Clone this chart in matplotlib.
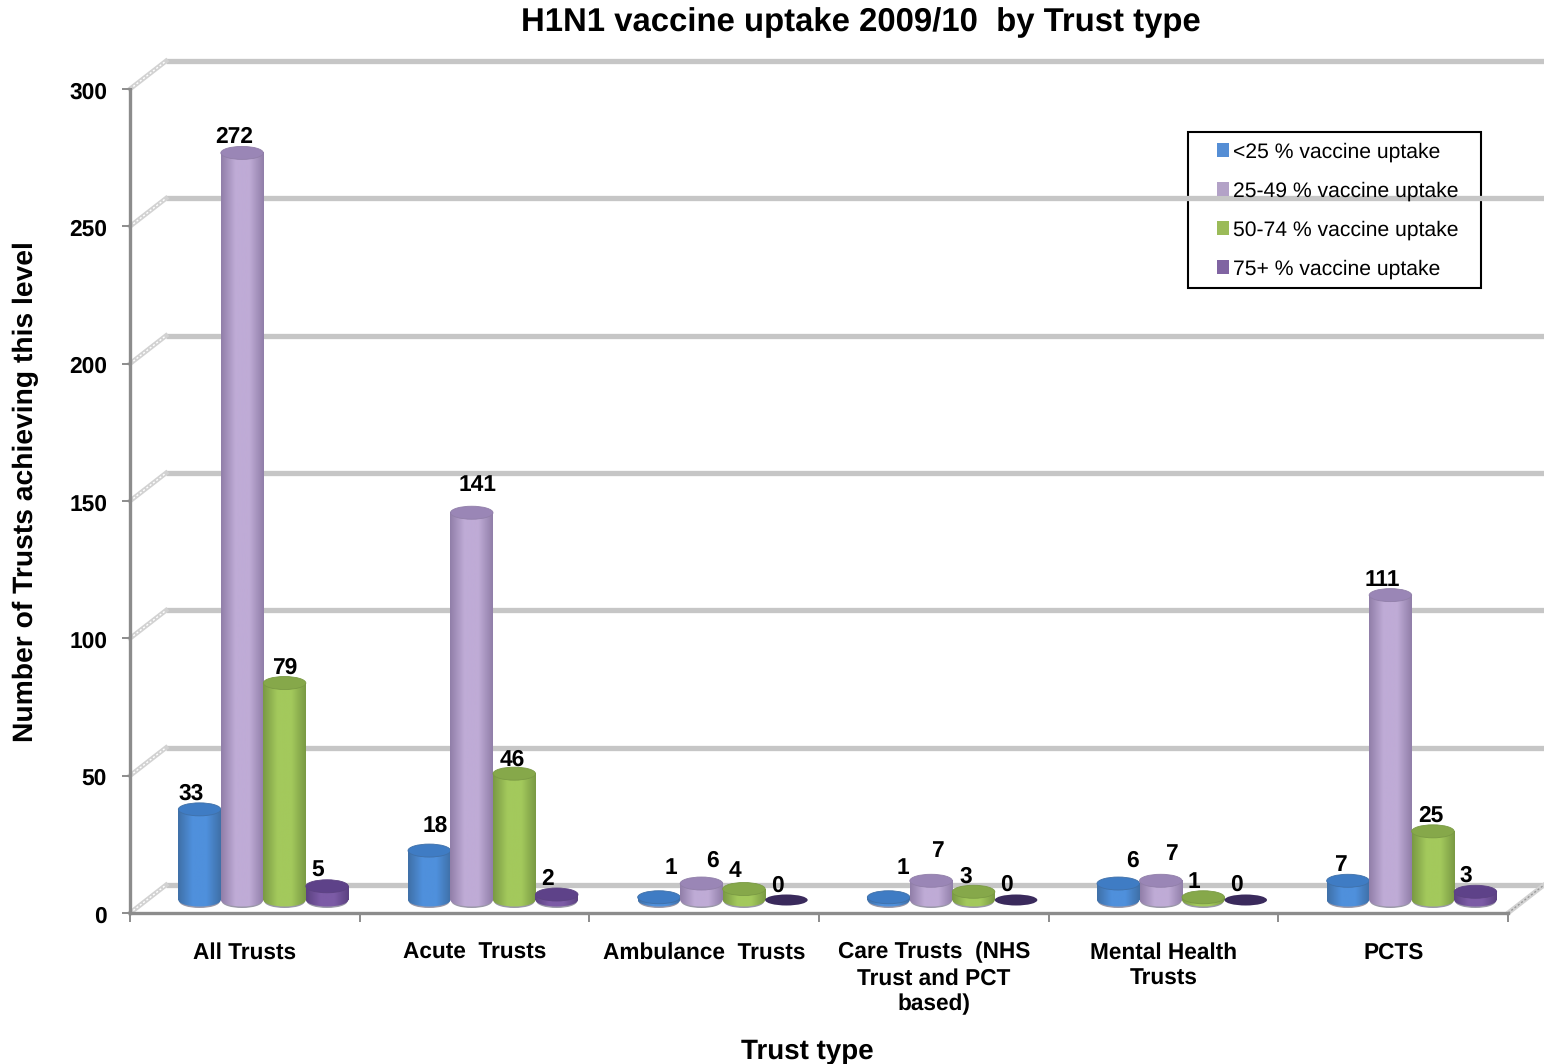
import numpy as np
import matplotlib
matplotlib.use('Agg')
import matplotlib.pyplot as plt
from matplotlib.colors import LinearSegmentedColormap
from matplotlib.patches import Ellipse, Patch, Rectangle
from matplotlib.transforms import ScaledTranslation

plt.rcParams['font.family'] = ['Liberation Sans', 'DejaVu Sans']
plt.rcParams['text.hinting'] = 'no_hinting'

# data
categories = ['All Trusts', 'Acute  Trusts', 'Ambulance  Trusts',
              'Care Trusts  (NHS\nTrust and PCT\nbased)', 'Mental Health\nTrusts', 'PCTS']
series_names = ['<25 % vaccine uptake', '25-49 % vaccine uptake',
                '50-74 % vaccine uptake', '75+ % vaccine uptake']
under_25 = [33, 18, 1, 1, 6, 7]
from_25_to_49 = [272, 141, 6, 7, 7, 111]
from_50_to_74 = [79, 46, 4, 3, 1, 25]
over_75 = [5, 2, 0, 0, 0, 3]
y_ticks = [0, 50, 100, 150, 200, 250, 300]

# label nudges in pixels, one row per series
nudge_x = [[-8, 6, 12, 14, 14, -8],
           [-7.5, 5.5, 11, 6.5, 10.5, -8],
           [0, -2, -8.5, -8, -9, -2.5],
           [-9.5, -9, -9, -9.5, -9, -10]]
nudge_y = [[15.5, 24.5, 29, 29, 22.5, 15.5],
           [16, 28, 22.5, 30, 27, 15],
           [15, 14, 18, 15, 15, 15.5],
           [15.5, 15.5, 14, 15, 15, 15.5]]

# styles
body_colors = ['#4f90dc', '#bfabd6', '#a3c95c', '#7c5ba6']
edge_colors = ['#3f70a8', '#917fa9', '#7a9a44', '#5c4282']
top_colors = ['#3f7cc4', '#9a86b6', '#86a84a', '#5e4289']
legend_colors = ['#558ed5', '#b3a2c7', '#9bbb59', '#8064a2']
grid_color = '#c6c6c6'
axis_color = '#8c8c8c'

W, H = 1544, 1064
fig = plt.figure(figsize=(W / 100, H / 100), dpi=100, facecolor='white')
ax = fig.add_axes([130 / W, 1 - 913 / H, 1378 / W, 824 / H])

px_x = 6 / 1378
px_y = 300 / 824
depth_x = 36 * px_x
depth_y = 28 * px_y
base = 13 * px_y
bar_w = 42.5 * px_x
group_shift = 18.5 * px_x
ell_h = 13 * px_y


def draw_cylinder(x, v, s):
    left = x - bar_w / 2
    right = x + bar_w / 2
    if v == 0:
        ax.add_patch(Ellipse((x, base), bar_w, 11 * px_y, fc='#3a2a5c', ec='none', zorder=4))
        return
    cmap = LinearSegmentedColormap.from_list('c', [edge_colors[s], body_colors[s], body_colors[s], edge_colors[s]])
    grad = np.linspace(0, 1, 64).reshape(1, -1)
    # soft grey foot under the cylinder
    ax.add_patch(Ellipse((x, base - 1.5 * px_y), bar_w * 0.95, ell_h, fc='#9a98a8', ec='none', zorder=3 + s * 0.1))
    foot = Ellipse((x, base), bar_w, ell_h, fc='none', ec='none', zorder=3 + s * 0.1)
    ax.add_patch(foot)
    im = ax.imshow(grad, extent=[left, right, base - ell_h, base], aspect='auto', cmap=cmap, zorder=3 + s * 0.1)
    im.set_clip_path(foot)
    ax.imshow(grad, extent=[left, right, base, base + v], aspect='auto', cmap=cmap, zorder=3 + s * 0.1)
    ax.add_patch(Ellipse((x, base + v), bar_w, ell_h, fc=top_colors[s], ec=edge_colors[s], lw=0.6,
                         zorder=3 + s * 0.1))


# back wall grid and the slanted side wall lines
for v in y_ticks:
    ax.plot([depth_x, 6 + depth_x], [v + depth_y, v + depth_y], color=grid_color, lw=3.8, clip_on=False,
            solid_capstyle='butt', zorder=1)
    ax.plot([0, depth_x], [v, v + depth_y], color='#d2d2d2', lw=3.4, clip_on=False, zorder=1)
    ax.plot([0, depth_x], [v, v + depth_y], color='white', lw=1, ls=(0, (1.5, 1.5)), clip_on=False, zorder=1)
ax.plot([6, 6 + depth_x], [0, depth_y], color='#d2d2d2', lw=3.4, clip_on=False, zorder=1)
ax.plot([6, 6 + depth_x], [0, depth_y], color='#9a9a9a', lw=1, ls=(0, (1.5, 1.5)), clip_on=False, zorder=1)

all_series = [under_25, from_25_to_49, from_50_to_74, over_75]
for s, values in enumerate(all_series):
    for c, v in enumerate(values):
        x = c + 0.5 + group_shift + (s - 1.5) * bar_w
        draw_cylinder(x, v, s)
        ax.annotate(str(v), (x, base + v), xytext=(nudge_x[s][c], nudge_y[s][c]), textcoords='offset pixels',
                    ha='center', va='center', fontsize=16.4, fontweight='bold', color='black',
                    annotation_clip=False, zorder=10)

ax.set_xlim(0, 6)
ax.set_ylim(0, 300)
ax.patch.set_visible(False)
for name in ['top', 'right']:
    ax.spines[name].set_visible(False)
for name in ['left', 'bottom']:
    ax.spines[name].set_color(axis_color)
    ax.spines[name].set_linewidth(2.4)
    ax.spines[name].set_zorder(2)

ax.set_yticks(y_ticks)
ax.set_yticklabels([str(v) for v in y_ticks], fontsize=16.4, fontweight='bold')
ax.set_xticks(range(7))
ax.set_xticklabels([])
ax.set_xticks(np.arange(6) + 0.5, minor=True)
ax.set_xticklabels(categories, minor=True, fontsize=16.3, fontweight='bold', linespacing=1.27)
ax.tick_params(axis='y', length=6, width=1.4, color=axis_color, pad=10.5)
ax.tick_params(axis='x', which='major', length=6.5, width=1.4, color=axis_color)
ax.tick_params(axis='x', which='minor', length=0, pad=20.8)
# y tick labels sit a pixel low in the reference
down_1px = ScaledTranslation(0, -1 / 100, fig.dpi_scale_trans)
for lab in ax.get_yticklabels():
    lab.set_transform(lab.get_transform() + down_1px)

ax.set_xlabel('Trust type', fontsize=20, fontweight='bold')
ax.xaxis.set_label_coords(807 / W, 1 - 1052 / H, transform=fig.transFigure)
ax.xaxis.label.set_va('center')
ax.set_ylabel('Number of Trusts achieving this level', fontsize=20.3, fontweight='bold')
ax.yaxis.set_label_coords(26 / W, 1 - 492 / H, transform=fig.transFigure)
ax.yaxis.label.set_va('center')
fig.text(861 / W, 1 - 23 / H, 'H1N1 vaccine uptake 2009/10  by Trust type', ha='center', va='center',
         fontsize=23.7, fontweight='bold')

# legend box
fig.add_artist(Rectangle((1188 / W, 1 - 288 / H), 293 / W, 156 / H, transform=fig.transFigure,
                         fc='white', ec='black', lw=1.5, zorder=1))
handles = [Patch(fc=col, ec='none', label=lab) for col, lab in zip(legend_colors, series_names)]
leg = ax.legend(handles=handles, loc='center left', bbox_to_anchor=(1217 / W, 1 - 210.5 / H),
                bbox_transform=fig.transFigure, frameon=False, fontsize=15.2, handlelength=0.58,
                handleheight=0.58, handletextpad=0.19, labelspacing=0.92, borderpad=0, borderaxespad=0)
leg.set_zorder(6)
ax.set_zorder(2)

fig.savefig('out.png', dpi=100)
